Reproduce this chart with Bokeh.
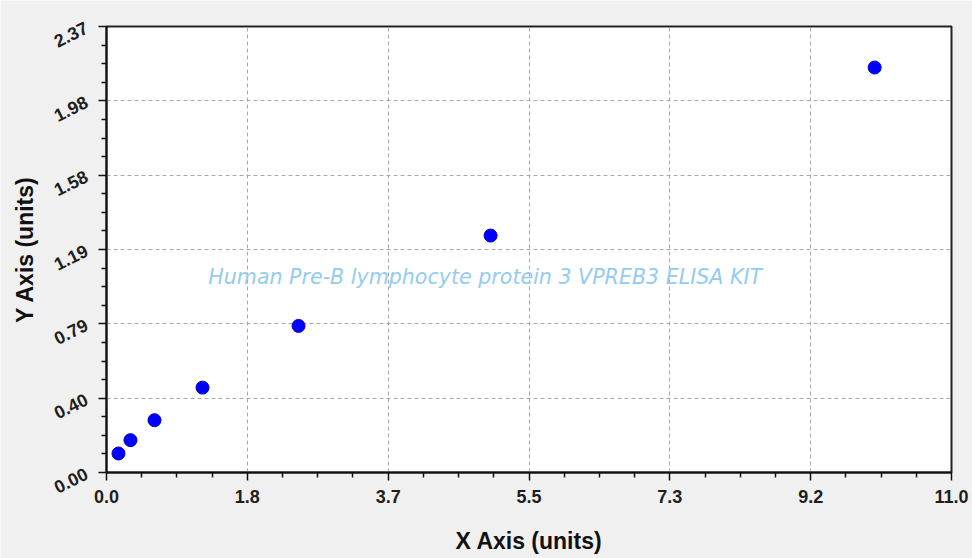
from bokeh.plotting import figure
from bokeh.models import FixedTicker, Label, ColumnDataSource
from bokeh.embed import file_html
from bokeh.resources import INLINE

# data
x_vals = [0.156, 0.312, 0.625, 1.25, 2.5, 5.0, 10.0]
y_vals = [0.101, 0.172, 0.278, 0.451, 0.779, 1.259, 2.152]

x_tick_vals = [0.0, 11/6, 22/6, 33/6, 44/6, 55/6, 11.0]
x_tick_labels = ["0.0", "1.8", "3.7", "5.5", "7.3", "9.2", "11.0"]
y_tick_vals = [0.0, 0.395, 0.79, 1.185, 1.58, 1.975, 2.37]
y_tick_labels = ["0.00", "0.40", "0.79", "1.19", "1.58", "1.98", "2.37"]

watermark = "Human Pre-B lymphocyte protein 3 VPREB3 ELISA KIT"

BG = "#f0f0f0"

p = figure(width=972, height=558, output_backend="svg", toolbar_location=None,
           x_range=(0, 11), y_range=(0, 2.37),
           min_border_left=106, min_border_right=21, min_border_top=26, min_border_bottom=86)
p.background_fill_color = "white"
p.border_fill_color = BG
p.outline_line_color = "#222222"
p.outline_line_width = 2

def minors(vals, n=4):
    out = []
    for a, b in zip(vals[:-1], vals[1:]):
        for k in range(1, n):
            out.append(a + (b - a) * k / n)
    return out

p.xaxis.ticker = FixedTicker(ticks=x_tick_vals, minor_ticks=minors(x_tick_vals))
p.yaxis.ticker = FixedTicker(ticks=y_tick_vals, minor_ticks=minors(y_tick_vals))
p.xaxis.major_label_overrides = {v: s for v, s in zip(x_tick_vals, x_tick_labels)}
p.yaxis.major_label_overrides = {v: s for v, s in zip(y_tick_vals, y_tick_labels)}

for ax in (p.xaxis, p.yaxis):
    ax.axis_line_color = "#111111"
    ax.axis_line_width = 2
    ax.major_tick_line_color = "#111111"
    ax.minor_tick_line_color = "#111111"
    ax.major_tick_line_width = 1.5
    ax.minor_tick_line_width = 1.5
    ax.major_tick_out = 8
    ax.major_tick_in = 0
    ax.minor_tick_out = 5
    ax.minor_tick_in = 0
    ax.major_label_text_font = "Liberation Sans"
    ax.major_label_text_font_style = "bold"
    ax.major_label_text_font_size = "18px"
    ax.major_label_text_color = "#1e1e1e"
    ax.axis_label_text_font = "Liberation Sans"
    ax.axis_label_text_font_style = "bold"
    ax.axis_label_text_font_size = "23px"
    ax.axis_label_text_color = "#111111"

p.xaxis.axis_label = "X Axis (units)"
p.yaxis.axis_label = "Y Axis (units)"
p.yaxis.major_label_orientation = 0.46
p.xaxis.major_label_standoff = 9
p.yaxis.major_label_standoff = 12
p.xaxis.axis_label_standoff = 22
p.yaxis.axis_label_standoff = 8

for g in (p.xgrid, p.ygrid):
    g.grid_line_color = "#a8a8a8"
    g.grid_line_dash = "4 3"
    g.grid_line_width = 1

src = ColumnDataSource(data=dict(x=x_vals, y=y_vals))
p.scatter("x", "y", source=src, size=13, fill_color="#0000ff", line_color="#0000cc", line_width=1)

p.add_layout(Label(x=4.93, y=1.037, text=watermark, text_align="center", text_baseline="middle",
                   text_font="DejaVu Sans", text_font_style="italic", text_font_size="20.6px",
                   text_color="#94cbf0"))

html = file_html(p, INLINE)
html = html.replace("<body>", '<body style="background:%s; margin:0; overflow:hidden">' % BG, 1)
open("out.html", "w").write(html)
